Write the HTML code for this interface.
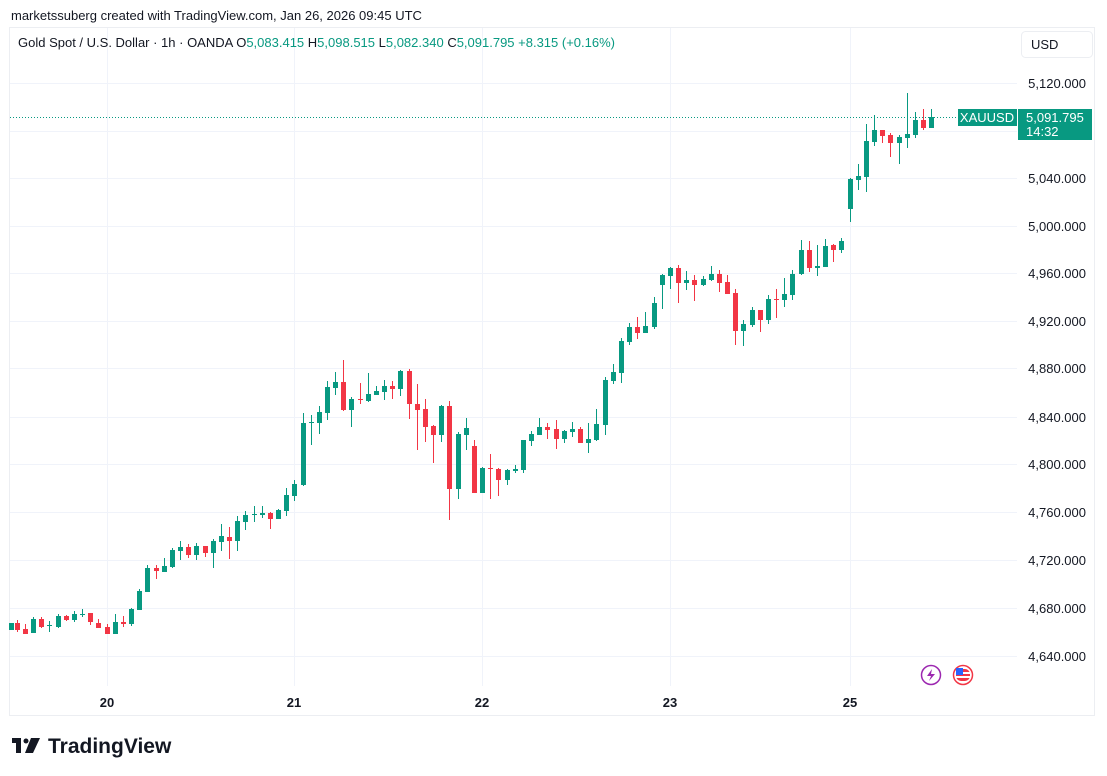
<!DOCTYPE html>
<html><head><meta charset="utf-8"><style>
html,body{margin:0;padding:0;background:#fff;}
body{width:1107px;height:776px;overflow:hidden;position:relative;font-family:"Liberation Sans",sans-serif;}
</style></head><body>
<svg width="1107" height="776" viewBox="0 0 1107 776" xmlns="http://www.w3.org/2000/svg" style="position:absolute;left:0;top:0;font-family:'Liberation Sans',sans-serif">
<text x="11" y="20" font-size="13" fill="#131722">marketssuberg created with TradingView.com, Jan 26, 2026 09:45 UTC</text>
<rect x="9.5" y="27.5" width="1085" height="688" fill="none" stroke="#eceef2"/>
<g stroke="#f0f3fa" stroke-width="1">
<line x1="10" x2="1017" y1="83.5" y2="83.5"/><line x1="10" x2="1017" y1="131.5" y2="131.5"/><line x1="10" x2="1017" y1="178.5" y2="178.5"/><line x1="10" x2="1017" y1="226.5" y2="226.5"/><line x1="10" x2="1017" y1="273.5" y2="273.5"/><line x1="10" x2="1017" y1="321.5" y2="321.5"/><line x1="10" x2="1017" y1="368.5" y2="368.5"/><line x1="10" x2="1017" y1="417.5" y2="417.5"/><line x1="10" x2="1017" y1="464.5" y2="464.5"/><line x1="10" x2="1017" y1="512.5" y2="512.5"/><line x1="10" x2="1017" y1="560.5" y2="560.5"/><line x1="10" x2="1017" y1="608.5" y2="608.5"/><line x1="10" x2="1017" y1="656.5" y2="656.5"/>
<line x1="107.5" x2="107.5" y1="28" y2="686"/><line x1="294.5" x2="294.5" y1="28" y2="686"/><line x1="482.5" x2="482.5" y1="28" y2="686"/><line x1="670.5" x2="670.5" y1="28" y2="686"/><line x1="850.5" x2="850.5" y1="28" y2="686"/>
</g>
<text x="18" y="47" font-size="13" fill="#131722">Gold Spot / U.S. Dollar · 1h · OANDA <tspan>O</tspan><tspan fill="#089981">5,083.415</tspan> H<tspan fill="#089981">5,098.515</tspan> L<tspan fill="#089981">5,082.340</tspan> C<tspan fill="#089981">5,091.795 +8.315 (+0.16%)</tspan></text>
<rect x="1021.5" y="31.5" width="71" height="26" rx="4" fill="#fff" stroke="#eceef2"/>
<text x="1031" y="49" font-size="13" fill="#131722">USD</text>
<g font-size="13" fill="#131722" text-anchor="end">
<text x="1086" y="88">5,120.000</text><text x="1086" y="183">5,040.000</text><text x="1086" y="231">5,000.000</text><text x="1086" y="278">4,960.000</text><text x="1086" y="326">4,920.000</text><text x="1086" y="373">4,880.000</text><text x="1086" y="422">4,840.000</text><text x="1086" y="469">4,800.000</text><text x="1086" y="517">4,760.000</text><text x="1086" y="565">4,720.000</text><text x="1086" y="613">4,680.000</text><text x="1086" y="661">4,640.000</text>
</g>
<g font-size="13" font-weight="bold" fill="#131722" text-anchor="middle">
<text x="107" y="707">20</text><text x="294" y="707">21</text><text x="482" y="707">22</text><text x="670" y="707">23</text><text x="850" y="707">25</text>
</g>
<line x1="10" x2="958" y1="117.5" y2="117.5" stroke="#089981" stroke-dasharray="1,2"/>
<rect x="958" y="109" width="59" height="17" fill="#089981"/>
<text x="987" y="122" font-size="13" fill="#fff" text-anchor="middle">XAUUSD</text>
<rect x="1018" y="109" width="74" height="31" fill="#089981"/>
<text x="1026" y="122" font-size="13" fill="#fff">5,091.795</text>
<text x="1026" y="136" font-size="13" fill="#fff">14:32</text>
<circle cx="931" cy="675" r="9.5" fill="#fff" stroke="#9c27b0" stroke-width="1.5"/>
<path d="M932 669 L927 676 L931 676 L929 681 L935 674 L931 674 Z" fill="#9c27b0"/>
<circle cx="963" cy="675" r="9.5" fill="#fff" stroke="#f23645" stroke-width="1.5"/>
<rect x="956" y="669" width="14" height="12" rx="5" fill="#f23645"/>
<rect x="956" y="672" width="14" height="2" fill="#fff"/><rect x="956" y="676" width="14" height="2" fill="#fff"/>
<rect x="956" y="668" width="7" height="7" fill="#2962ff"/>
<g id="c"></g>
<g font-family="'Liberation Sans',sans-serif">
<rect x="12" y="738" width="9" height="5" fill="#131722"/><rect x="16" y="738" width="5" height="15" fill="#131722"/>
<circle cx="26" cy="741" r="2.5" fill="#131722"/><path d="M31 738 L40 738 L33 753 L25 753 Z" fill="#131722"/>
<text x="48" y="753" font-size="21" font-weight="bold" fill="#131722">TradingView</text>
</g>
</svg>
<script>
var d=[
[10.7,623,630,623,630,'G'],[17,623,630,620,632,'R'],[25,629,634,624,634,'R'],[33,619,633,617,633,'G'],[41,619,627,617,628,'R'],[49,625,626,621,632,'G'],[58,616,627,614,628,'G'],[66,616,620,615,621,'R'],[74,614,620,611,622,'G'],[82,614,615,609,617,'G'],[90,613,622,613,625,'R'],[98,623,628,619,628,'R'],[107,627,634,624,634,'R'],[115,622,634,614,634,'G'],[123,622,624,616,627,'R'],[131,609,624,608,626,'G'],[139,591,610,589,610,'G'],[147,568,592,565,592,'G'],[156,568,571,565,579,'R'],[164,566,572,558,572,'G'],[172,550,567,548,568,'G'],[180,547,551,541,560,'G'],[188,547,555,544,558,'R'],[196,546,555,543,560,'G'],[205,546,553,546,557,'R'],[213,541,553,539,568,'G'],[221,536,542,524,551,'G'],[229,537,541,527,559,'R'],[237,521,541,516,551,'G'],[245,515,522,511,530,'G'],[254,514,515,506,522,'G'],[262,513,515,506,518,'G'],[270,513,519,512,529,'R'],[278,510,519,509,519,'G'],[286,495,511,488,516,'G'],[294,484,496,480,501,'G'],[303,423,485,413,486,'G'],[311,422,423,415,445,'G'],[319,412,423,406,434,'G'],
[327,387,413,381,420,'G'],[335,382,388,372,395,'G'],[343,382,410,360,411,'R'],[351,399,410,397,427,'G'],[360,399,400,383,404,'R'],[368,394,401,373,402,'G'],[376,391,395,386,395,'G'],[384,386,392,380,400,'G'],[392,386,389,381,399,'R'],[400,371,389,370,396,'G'],[409,371,404,369,419,'R'],[417,404,410,384,450,'R'],[425,409,427,399,442,'R'],[433,426,435,425,463,'R'],[441,406,435,405,442,'G'],[449,406,489,401,520,'R'],[458,434,489,432,499,'G'],[466,428,435,418,450,'G'],[474,446,493,440,493,'R'],[482,468,493,467,493,'G'],[490,468,469,454,499,'R'],[498,469,480,468,496,'R'],[507,470,480,469,485,'G'],[515,469,471,465,473,'G'],[523,440,470,440,473,'G'],[531,434,441,431,446,'G'],[539,427,435,418,435,'G'],[547,427,430,423,439,'R'],[556,429,439,420,449,'R'],[564,431,439,430,443,'G'],[572,429,432,422,437,'G'],[580,429,443,427,443,'R'],[588,439,443,423,453,'G'],[596,424,440,409,441,'G'],[605,380,425,377,435,'G'],[613,372,381,364,384,'G'],
[621,341,373,338,383,'G'],[629,327,342,323,345,'G'],[637,327,333,317,339,'R'],[645,326,333,312,333,'G'],[654,303,327,297,329,'G'],[662,275,285,274,309,'G'],[670,268,276,267,289,'G'],[678,268,283,265,303,'R'],[686,280,283,271,290,'G'],[694,280,285,275,301,'R'],[703,279,285,276,286,'G'],[711,274,280,266,281,'G'],[719,274,283,270,292,'R'],[727,282,294,275,294,'R'],[735,293,331,289,345,'R'],[743,324,331,320,346,'G'],[752,310,325,307,327,'G'],[760,310,320,310,332,'R'],[768,299,320,295,324,'G'],[776,299,300,289,318,'R'],[784,294,300,278,307,'G'],[792,274,295,270,300,'G'],[801,250,274,240,275,'G'],[809,250,268,241,272,'R'],[817,266,268,245,276,'G'],[825,246,267,239,267,'G'],[833,245,250,244,262,'R'],[841,241,250,238,253,'G'],
[850,179,209,178,222,'G'],[858,176,180,164,190,'G'],[866,141,177,124,192,'G'],[874,130,142,115,146,'G'],[882,130,136,130,143,'R'],[890,135,143,133,157,'R'],[899,137,143,135,164,'G'],[907,134,138,93,148,'G'],[915,120,135,112,138,'G'],[923,120,128,109,130,'R'],[931,117,128,109,128,'G']];
var s='';d.forEach(function(c){var col=c[5]=='G'?'#089981':'#f23645';var x=Math.round(c[0]);var h=Math.max(1,c[2]-c[1]);
s+='<rect x="'+x+'" y="'+c[3]+'" width="1" height="'+(c[4]-c[3])+'" fill="'+col+'"/>';
s+='<rect x="'+(x-2)+'" y="'+c[1]+'" width="5" height="'+h+'" fill="'+col+'"/>';});
document.getElementById('c').innerHTML=s;
</script>
</body></html>
